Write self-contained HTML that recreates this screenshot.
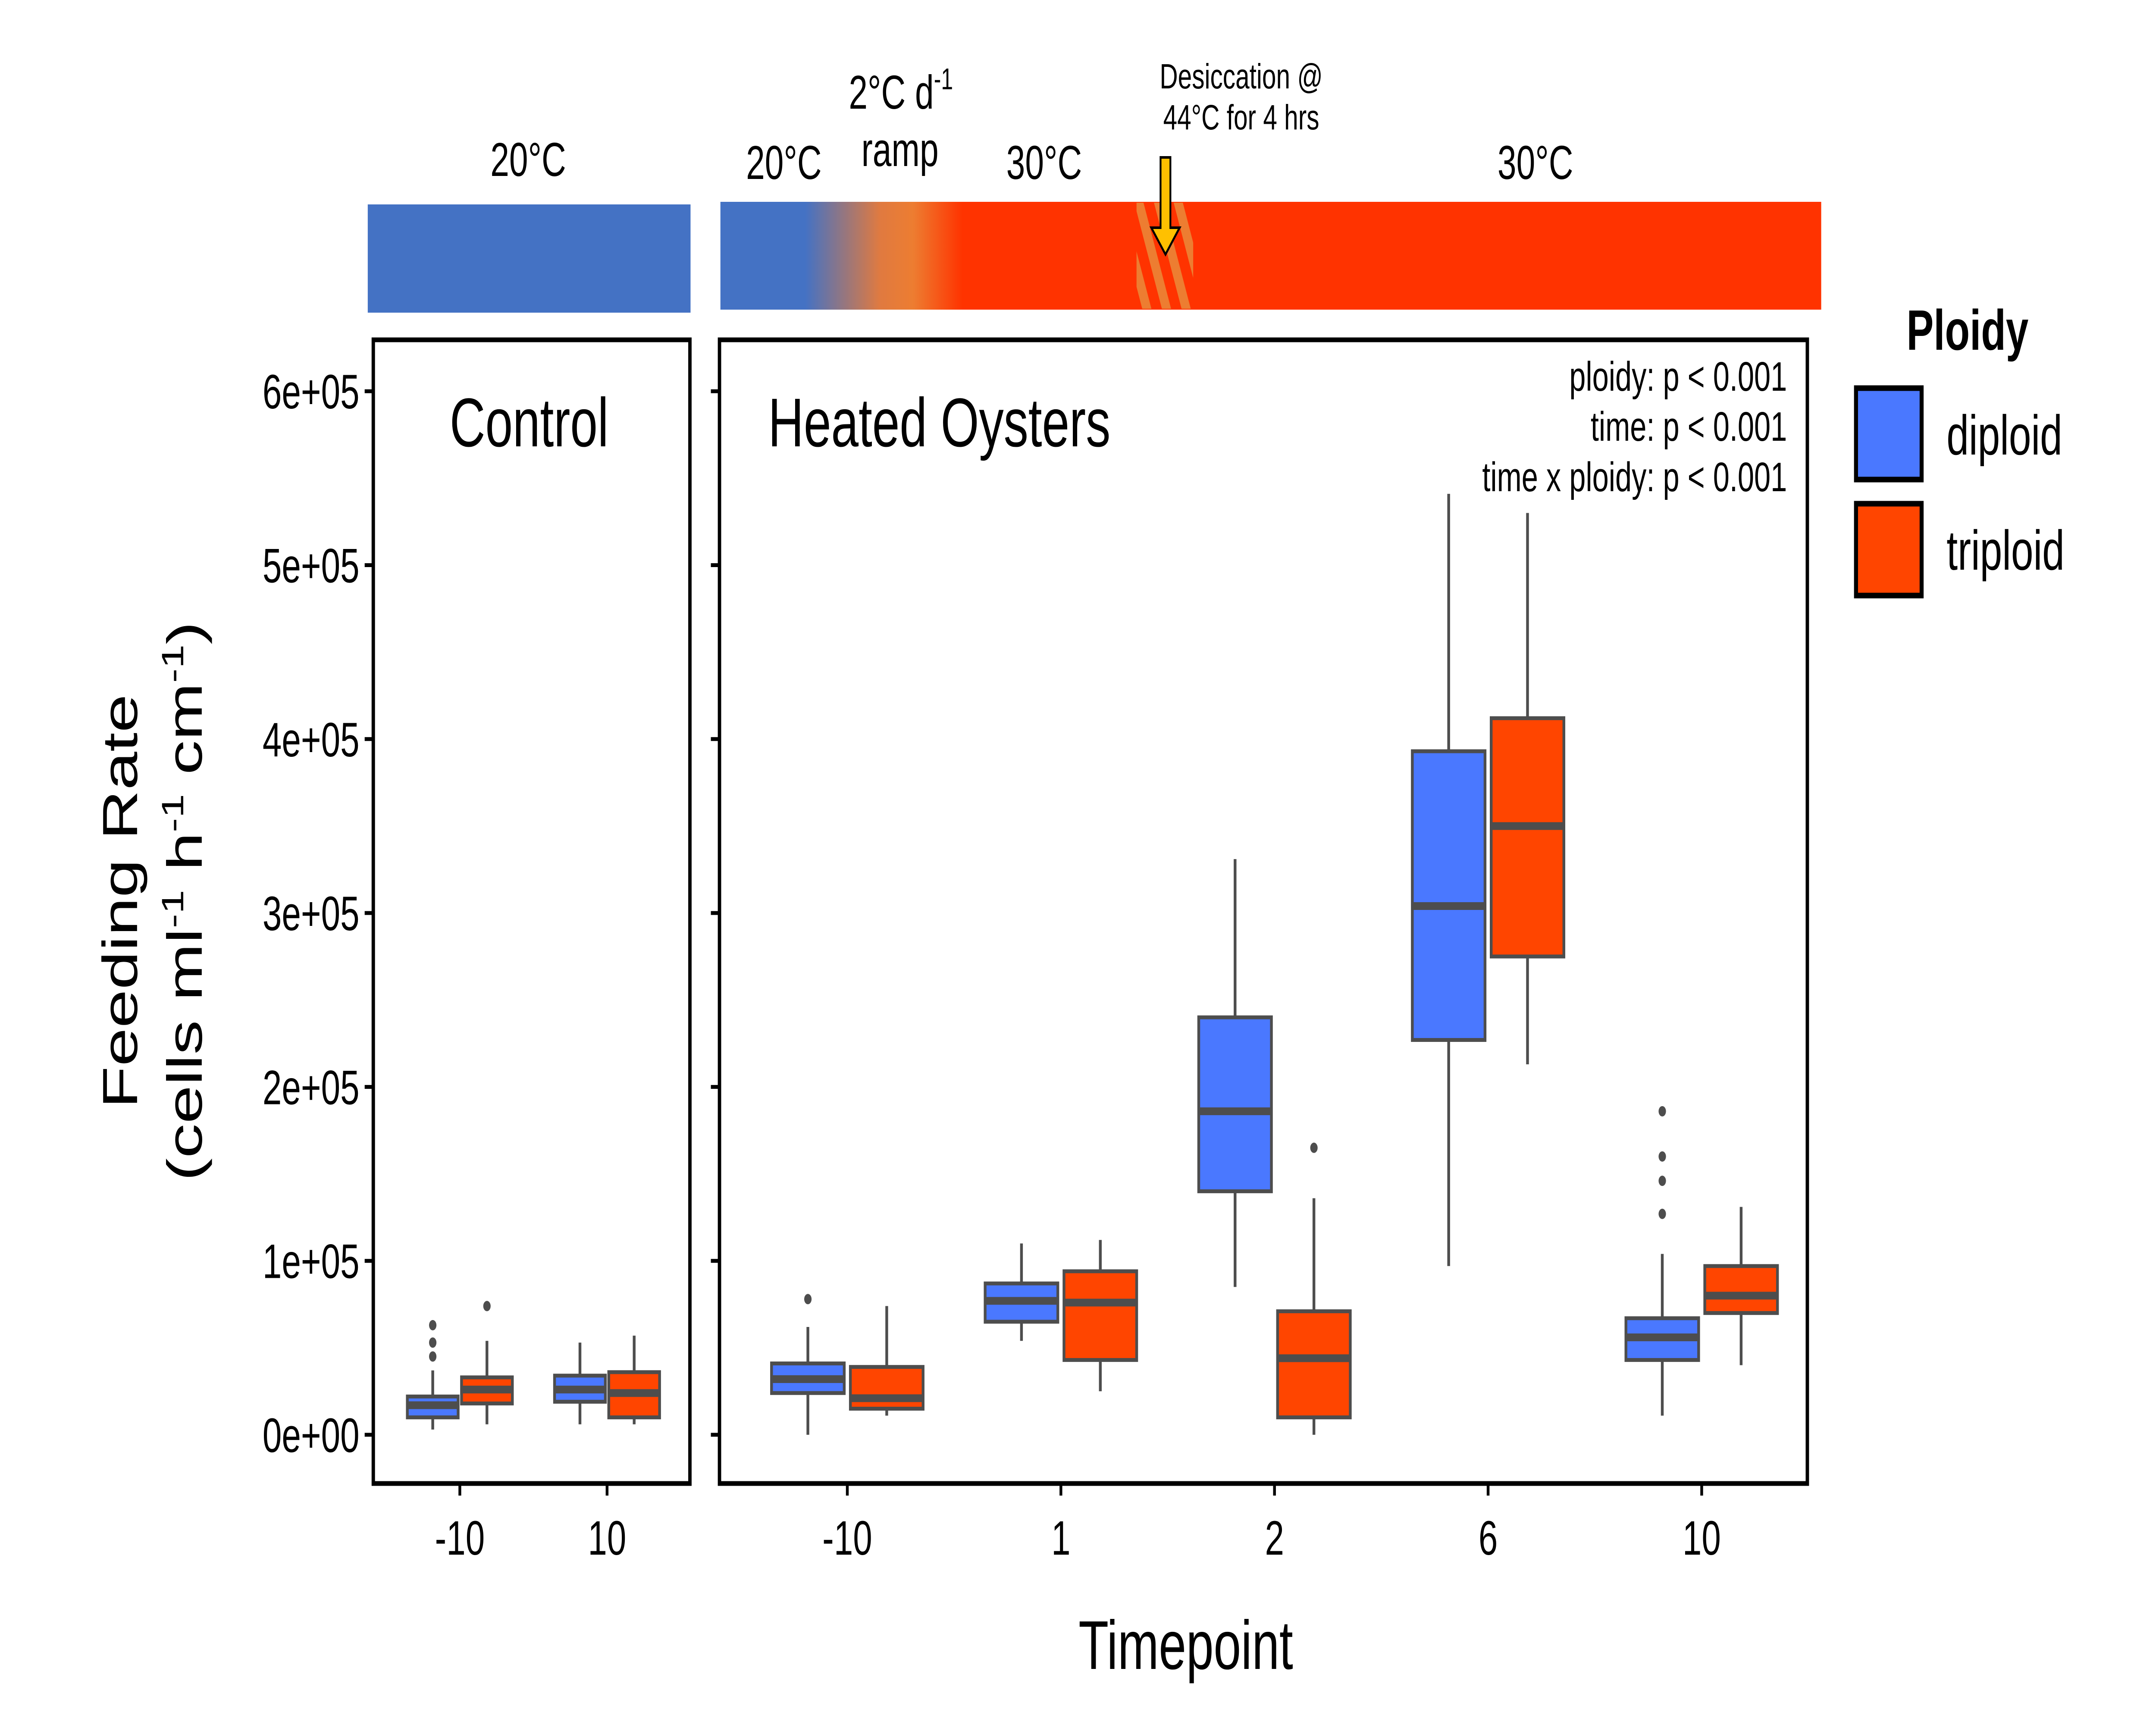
<!DOCTYPE html>
<html><head><meta charset="utf-8"><style>
html,body{margin:0;padding:0;background:#fff;width:100%;height:100%;overflow:hidden;}
svg{display:block;width:100vw;height:100vh;font-family:"Liberation Sans",Arial,sans-serif;}
</style></head><body>
<svg id="chart" viewBox="0 0 7000 4000" preserveAspectRatio="none" xmlns="http://www.w3.org/2000/svg">
<defs>
<linearGradient id="ramp" x1="2339" x2="5913" y1="0" y2="0" gradientUnits="userSpaceOnUse">
<stop offset="0" stop-color="#4472C4"/>
<stop offset="0.077" stop-color="#4472C4"/>
<stop offset="0.145" stop-color="#E07A40"/>
<stop offset="0.175" stop-color="#ED7D31"/>
<stop offset="0.22" stop-color="#FF3300"/>
<stop offset="1" stop-color="#FF3300"/>
</linearGradient>
<pattern id="hatch" width="60" height="60" patternUnits="userSpaceOnUse" patternTransform="rotate(-20)">
<rect width="60" height="60" fill="#FF3300"/>
<rect width="28" height="60" fill="#ED7D31"/>
</pattern>
</defs>

<g>
<rect x="1194" y="474" width="1048" height="251" fill="#4472C4"/>
<rect x="2339" y="468" width="3574" height="250" fill="url(#ramp)"/>
<rect x="3690" y="470" width="184" height="246" fill="url(#hatch)"/>
<polygon points="3768,365 3800,365 3800,528 3830,528 3784,590 3738,528 3768,528" fill="#FFC000" stroke="#000" stroke-width="6"/>
<text x="1715" y="408" font-size="110" text-anchor="middle">20°C</text>
<text x="2545" y="415" font-size="110" text-anchor="middle">20°C</text>
<text x="2925" y="252" font-size="110" text-anchor="middle">2°C d<tspan font-size="70" dy="-45">-1</tspan></text>
<text x="2922" y="385" font-size="110" text-anchor="middle">ramp</text>
<text x="3390" y="415" font-size="110" text-anchor="middle">30°C</text>
<text x="4985" y="415" font-size="110" text-anchor="middle">30°C</text>
<text x="4030" y="205" font-size="82" text-anchor="middle">Desiccation @</text>
<text x="4030" y="300" font-size="82" text-anchor="middle">44°C for 4 hrs</text>
</g>

<g id="axes"></g>
<g id="marks"></g>

<text x="1718" y="1035" font-size="160" text-anchor="middle">Control</text>
<text x="2494" y="1035" font-size="160">Heated Oysters</text>
<g font-size="96" text-anchor="end">
<text x="5802" y="906">ploidy: p &lt; 0.001</text>
<text x="5802" y="1022">time: p &lt; 0.001</text>
<text x="5802" y="1139">time x ploidy: p &lt; 0.001</text>
</g>

<g font-size="160" text-anchor="middle">
<text transform="translate(445,2090) rotate(-90)">Feeding Rate</text>
<text transform="translate(655,2090) rotate(-90)">(cells ml<tspan font-size="100" dy="-60">-1</tspan><tspan dy="60"> h</tspan><tspan font-size="100" dy="-60">-1</tspan><tspan dy="60"> cm</tspan><tspan font-size="100" dy="-60">-1</tspan><tspan dy="60">)</tspan></text>
</g>
<text x="3850" y="3870" font-size="160" text-anchor="middle">Timepoint</text>

<g>
<text x="6190" y="811" font-size="132" font-weight="bold">Ploidy</text>
<rect x="6026" y="900" width="213" height="212" fill="#4A78FF" stroke="#000" stroke-width="13"/>
<text x="6320" y="1054" font-size="130">diploid</text>
<rect x="6026" y="1168" width="213" height="213" fill="#FF4500" stroke="#000" stroke-width="13"/>
<text x="6320" y="1321" font-size="130">triploid</text>
</g>
</svg>
<script>
// data (units of 1e5 cells ml-1 h-1 cm-1)
const yTicks = [0, 1, 2, 3, 4, 5, 6];
const yTickLabels = ["0e+00","1e+05","2e+05","3e+05","4e+05","5e+05","6e+05"];
const controlCategories = ["-10", "10"];
const heatedCategories = ["-10", "1", "2", "6", "10"];
// [lower whisker, Q1, median, Q3, upper whisker]
const controlDiploid = [[0.03,0.10,0.17,0.22,0.37],[0.06,0.19,0.26,0.34,0.53]];
const controlTriploid = [[0.06,0.18,0.26,0.33,0.54],[0.06,0.10,0.24,0.36,0.57]];
const heatedDiploid = [[0.0,0.24,0.32,0.41,0.62],[0.54,0.65,0.77,0.87,1.10],[0.85,1.40,1.86,2.40,3.31],[0.97,2.27,3.04,3.93,5.41],[0.11,0.43,0.56,0.67,1.04]];
const heatedTriploid = [[0.11,0.15,0.21,0.39,0.74],[0.25,0.43,0.76,0.94,1.12],[0.0,0.10,0.44,0.71,1.36],[2.13,2.75,3.50,4.12,5.30],[0.40,0.70,0.80,0.97,1.31]];
const controlDiploidOutliers = [[0.45,0.53,0.63],[]];
const controlTriploidOutliers = [[0.74],[]];
const heatedDiploidOutliers = [[0.78],[],[],[],[1.27,1.46,1.60,1.86]];
const heatedTriploidOutliers = [[],[],[1.65],[],[]];

const NS = "http://www.w3.org/2000/svg";
const Y0 = 3327, PER = 403.3;
function yScale(v){ return Y0 - v*PER; }
const panels = [
  {name:"control", x0:1212, x1:2240, cats:controlCategories, dip:controlDiploid, tri:controlTriploid, dOut:controlDiploidOutliers, tOut:controlTriploidOutliers, first:1493, step:478, off:88, bw:165, tickLeft:true},
  {name:"heated", x0:2336, x1:5868, cats:heatedCategories, dip:heatedDiploid, tri:heatedTriploid, dOut:heatedDiploidOutliers, tOut:heatedTriploidOutliers, first:2751, step:693.5, off:128, bw:236, tickLeft:false}
];
const panelTop = 788, panelBottom = 3440;
const axesG = document.getElementById("axes");
const marksG = document.getElementById("marks");
function mk(tag, attrs, parent){
  const e = document.createElementNS(NS, tag);
  for (const k in attrs) e.setAttribute(k, attrs[k]);
  parent.appendChild(e);
  return e;
}
function drawBox(parent, cx, w, s, fill, outs){
  const g = mk("g", {}, parent);
  
  
  const wl = mk("line", {x1:cx, x2:cx, y1:yScale(s[0]), y2:yScale(s[4]), stroke:"#4D4D4D", "stroke-width":9}, g);
  
  
  const r = mk("rect", {x:cx-w/2, y:yScale(s[3]), width:w, height:yScale(s[1])-yScale(s[3]), fill:fill, stroke:"#4D4D4D", "stroke-width":9}, g);
  
  
  const m = mk("line", {x1:cx-w/2, x2:cx+w/2, y1:yScale(s[2]), y2:yScale(s[2]), stroke:"#4D4D4D", "stroke-width":18}, g);
  
  
  outs.forEach(o=>{
    const c = mk("circle", {cx:cx, cy:yScale(o), r:12, fill:"#4D4D4D"}, g);
    
    
  });
}
panels.forEach(p=>{
  yTicks.forEach((t,i)=>{
    const ln = mk("line", {x1:p.x0-28, x2:p.x0, y1:yScale(t), y2:yScale(t), stroke:"#000", "stroke-width":9}, axesG);
    
    
    if (p.tickLeft){
      const tx = mk("text", {x:p.x0-45, y:yScale(t)+40, "font-size":112, "text-anchor":"end"}, axesG);
      
      
      tx.textContent = yTickLabels[i];
    }
  });
  p.cats.forEach((c,i)=>{
    const x = p.first + i*p.step;
    const ln = mk("line", {x1:x, x2:x, y1:panelBottom, y2:panelBottom+28, stroke:"#000", "stroke-width":9}, axesG);
    
    
    const tx = mk("text", {x:x, y:3605, "font-size":112, "text-anchor":"middle"}, axesG);
    
    
    tx.textContent = c;
    drawBox(marksG, x - p.off, p.bw, p.dip[i], "#4A78FF", p.dOut[i]);
    drawBox(marksG, x + p.off, p.bw, p.tri[i], "#FF4500", p.tOut[i]);
  });
  const fr = mk("rect", {x:p.x0, y:panelTop, width:p.x1-p.x0, height:panelBottom-panelTop, fill:"none", stroke:"#000", "stroke-width":11}, marksG);
  
  
});
</script>
</body></html>
